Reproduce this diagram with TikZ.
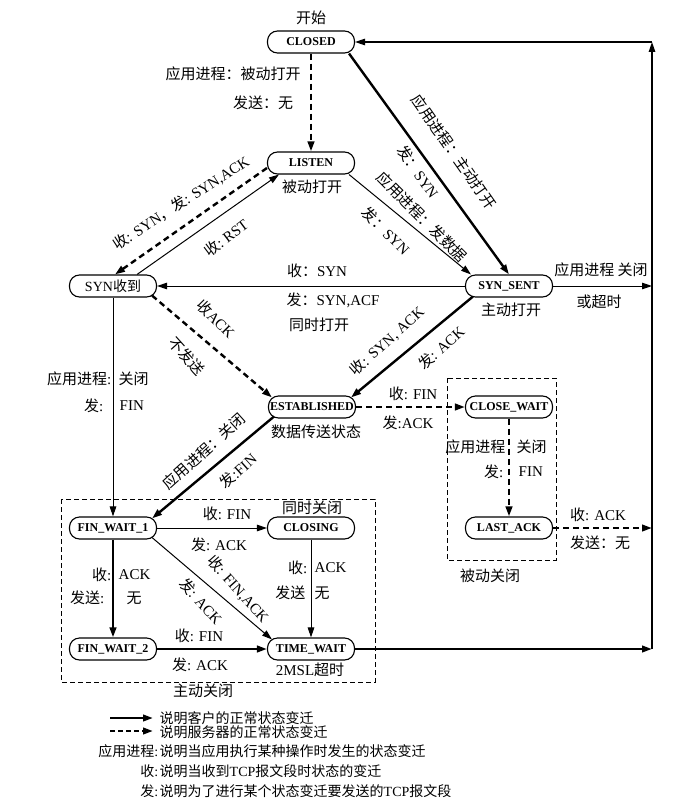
\documentclass[tikz,border=0pt]{standalone}
\usepackage{fontspec}
\setmainfont{Liberation Serif}
\newfontfamily\cjk{Noto Sans CJK SC}
\newcommand\zh[1]{{\cjk #1}}
\usetikzlibrary{arrows.meta}
\tikzset{
 stnode/.style={draw, line width=1.1pt, rounded corners=10pt, minimum width=87pt, minimum height=22pt, inner xsep=0.5pt, inner ysep=0pt, font=\fontsize{12}{13}\selectfont\bfseries, fill=white},
 lbl/.style={inner sep=0.5pt, font=\fontsize{15}{17}\selectfont},
 leg/.style={inner sep=0.5pt, font=\fontsize{14}{15}\selectfont},
 thickline/.style={line width=2.4pt},
 thinline/.style={line width=1pt},
 medline/.style={line width=1.3pt},
 dashthick/.style={line width=2.4pt, dash pattern=on 6pt off 4pt},
 arr/.style={-{Triangle[length=10pt,width=6.5pt]}},
 dbox/.style={line width=0.9pt, dash pattern=on 5pt off 3pt},
}
\begin{document}
\begin{tikzpicture}[x=1pt,y=-1pt]
\useasboundingbox (0,0) rectangle (698,808);
% dashed frames
\draw[dbox] (61,499) rectangle (375,682);
\draw[dbox] (447,378) rectangle (556,560);
% states
\node[stnode] (closed) at (311,42) {CLOSED};
\node[stnode] (listen) at (311,163) {LISTEN};
\node[stnode, font=\fontsize{14}{15}\selectfont] (synrcvd) at (113,286) {SYN\zh{收到}};
\node[stnode] (synsent) at (509,286) {SYN\_SENT};
\node[stnode] (estab) at (312,407) {ESTABLISHED};
\node[stnode] (closewait) at (509,407) {CLOSE\_WAIT};
\node[stnode] (finwait1) at (113,528) {FIN\_WAIT\_1};
\node[stnode] (closing) at (311,528) {CLOSING};
\node[stnode] (lastack) at (509,528) {LAST\_ACK};
\node[stnode] (finwait2) at (113,649) {FIN\_WAIT\_2};
\node[stnode] (timewait) at (311,649) {TIME\_WAIT};
% right-hand return line
\coordinate (rtop) at (652,42);
\coordinate (rss) at (652,286);
\coordinate (rla) at (652,528);
\coordinate (rtw) at (652,649);
% transitions
\draw[dashthick,arr] (closed) -- (listen);
\draw[thickline,arr] ([xshift=-6pt]closed.south east) -- (synsent.north);
\draw[thinline,arr] ([xshift=-6pt]listen.south east) -- ([xshift=6pt]synsent.north west);
\draw[dashthick,arr] ([yshift=-5pt]listen.west) -- ([xshift=2pt]synrcvd.north);
\draw[thinline,arr] ([xshift=-20pt]synrcvd.north east) -- ([xshift=12pt]listen.south west);
\draw[thinline,arr] (synsent) -- (synrcvd);
\draw[dashthick,arr] ([xshift=-5pt,yshift=2pt]synrcvd.south east) -- ([xshift=4pt,yshift=-2pt]estab.north west);
\draw[thickline,arr] ([xshift=8pt,yshift=1pt]synsent.south west) -- ([xshift=-5pt,yshift=-2pt]estab.north east);
\draw[dashthick,arr] (estab) -- (closewait);
\draw[dashthick,arr] (closewait) -- (lastack);
\draw[thickline,arr] ([xshift=6pt,yshift=2pt]estab.south west) -- ([xshift=-5pt,yshift=-2pt]finwait1.north east);
\draw[thinline,arr] (synrcvd) -- (finwait1);
\draw[thinline,arr] (finwait1) -- (closing);
\draw[thickline,arr] (finwait1) -- (finwait2);
\draw[thinline,arr] ([xshift=-5pt,yshift=2pt]finwait1.south east) -- ([xshift=5pt,yshift=-2pt]timewait.north west);
\draw[thinline,arr] (closing) -- (timewait);
\draw[thickline,arr] (finwait2) -- (timewait);
\draw[thickline,arr] (timewait) -- (rtw);
\draw[dashthick,arr] (lastack) -- (rla);
\draw[thinline,arr] (synsent) -- (rss);
\draw[medline,arr] (rtw) -- (rtop);
\draw[medline,arr] (rtop) -- (closed);
% labels
\node[lbl] (t1) at (311,18) {\zh{开始}};
\node[lbl] (t2) at (233,74) {\zh{应用进程：被动打开}};
\node[lbl] (t3) at (263,103) {\zh{发送：无}};
\node[lbl] (t4) at (312,187) {\zh{被动打开}};
\node[lbl,rotate=-55] (t5) at (454,152) {\zh{应用进程：主动打开}};
\node[lbl,rotate=-55] (t6) at (418,172) {\zh{发：}SYN};
\node[lbl,rotate=-45] (t7) at (422,217) {\zh{应用进程：发数据}};
\node[lbl,rotate=-45] (t8) at (386,231) {\zh{发：}SYN};
\node[lbl,rotate=33] (t9) at (181,203) {\zh{收}: SYN\zh{，发}: SYN,ACK};
\node[lbl,rotate=37] (t10) at (226,238) {\zh{收}:\ RST};
\node[lbl] (t11) at (317,271) {\zh{收：}SYN};
\node[lbl] (t12) at (333,300) {\zh{发：}SYN,ACF};
\node[lbl] (t13) at (319,325) {\zh{同时打开}};
\node[lbl,rotate=-45] (t14) at (216,319) {\zh{收}ACK};
\node[lbl,rotate=-48] (t15) at (187,356) {\zh{不发送}};
\node[lbl,rotate=42] (t16) at (387,341) {\zh{收}: SYN, ACK};
\node[lbl,rotate=42] (t17) at (441,348) {\zh{发}: ACK};
\node[lbl] (t18) at (511,310) {\zh{主动打开}};
\node[lbl] (t19) at (601,270) {\zh{应用进程 关闭}};
\node[lbl] (t20) at (599,302) {\zh{或超时}};
\node[lbl] (t21) at (413,394) {\zh{收}: FIN};
\node[lbl] (t22) at (408,423) {\zh{发}:ACK};
\node[lbl] (t23) at (316,432) {\zh{数据传送状态}};
\node[lbl,anchor=east] (t24) at (506,447) {\zh{应用进程}};
\node[lbl,anchor=west] (t25) at (516,447) {\zh{关闭}};
\node[lbl,anchor=east] (t26) at (504,472) {\zh{发}:};
\node[lbl,anchor=west] (t27) at (518,472) {FIN};
\node[lbl] (t28) at (598,515) {\zh{收}: ACK};
\node[lbl] (t29) at (600,543) {\zh{发送：无}};
\node[lbl] (t30) at (490,576) {\zh{被动关闭}};
\node[lbl,anchor=east] (t31) at (112,379) {\zh{应用进程}:};
\node[lbl,anchor=west] (t32) at (118,379) {\zh{关闭}};
\node[lbl,anchor=east] (t33) at (104,406) {\zh{发}:};
\node[lbl,anchor=west] (t34) at (119,406) {FIN};
\node[lbl,rotate=42] (t35) at (204,451) {\zh{应用进程：关闭}};
\node[lbl,rotate=42] (t36) at (238,471) {\zh{发}:FIN};
\node[lbl] (t37) at (227,514) {\zh{收}: FIN};
\node[lbl] (t38) at (219,545) {\zh{发}: ACK};
\node[lbl] (t39) at (312,508) {\zh{同时关闭}};
\node[lbl,anchor=east] (t40) at (112,575) {\zh{收}:};
\node[lbl,anchor=west] (t41) at (118,575) {ACK};
\node[lbl,anchor=east] (t42) at (105,598) {\zh{发送}:};
\node[lbl,anchor=west] (t43) at (126,598) {\zh{无}};
\node[lbl,rotate=-48] (t44) at (238,589) {\zh{收}: FIN,ACK};
\node[lbl,rotate=-48] (t45) at (201,601) {\zh{发}: ACK};
\node[lbl,anchor=east] (t46) at (308,568) {\zh{收}:};
\node[lbl,anchor=west] (t47) at (314,568) {ACK};
\node[lbl,anchor=east] (t48) at (306,593) {\zh{发送}};
\node[lbl,anchor=west] (t49) at (314,593) {\zh{无}};
\node[lbl] (t50) at (199,636) {\zh{收}: FIN};
\node[lbl] (t51) at (200,665) {\zh{发}: ACK};
\node[lbl] (t52) at (310,670) {2MSL\zh{超时}};
\node[lbl] (t53) at (203,691) {\zh{主动关闭}};
% legend
\coordinate (l1a) at (110,718);
\coordinate (l1b) at (153,718);
\coordinate (l2a) at (110,731);
\coordinate (l2b) at (153,731);
\draw[thickline,arr] (l1a) -- (l1b);
\draw[line width=2.4pt, dash pattern=on 5pt off 3pt,arr] (l2a) -- (l2b);
\node[leg,anchor=west] (g1) at (159,718) {\zh{说明客户的正常状态变迁}};
\node[leg,anchor=west] (g2) at (159,732) {\zh{说明服务器的正常状态变迁}};
\node[leg,anchor=east] (g3) at (159,751) {\zh{应用进程}:};
\node[leg,anchor=west] (g4) at (159,751) {\zh{说明当应用执行某种操作时发生的状态变迁}};
\node[leg,anchor=east] (g5) at (159,771) {\zh{收}:};
\node[leg,anchor=west] (g6) at (159,771) {\zh{说明当收到}TCP\zh{报文段时状态的变迁}};
\node[leg,anchor=east] (g7) at (159,791) {\zh{发}:};
\node[leg,anchor=west] (g8) at (159,791) {\zh{说明为了进行某个状态变迁要发送的}TCP\zh{报文段}};
\end{tikzpicture}
\end{document}
